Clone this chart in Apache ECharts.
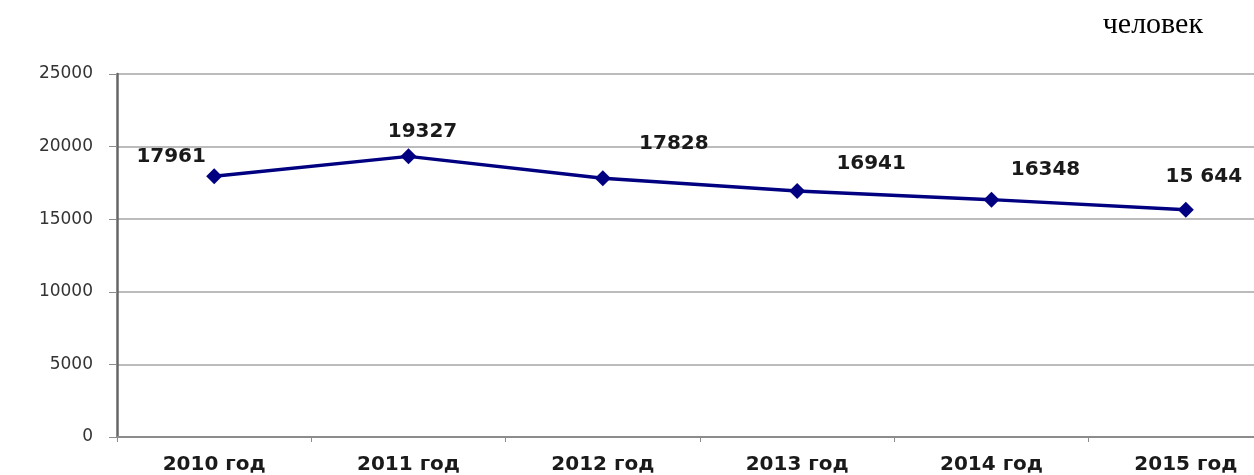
<!DOCTYPE html>
<html>
<head>
<meta charset="utf-8">
<script src="https://cdn.jsdelivr.net/npm/echarts@6/dist/echarts.min.js"></script>
<style>
  html, body { margin: 0; padding: 0; background: #fff; }
  #chart { width: 1254px; height: 475px; }
</style>
</head>
<body>
<div id="chart"></div>
<script>
// values
const years = ['2010 год', '2011 год', '2012 год', '2013 год', '2014 год', '2015 год'];
const people = [17961, 19327, 17828, 16941, 16348, 15644];
const pointLabels = ['17961', '19327', '17828', '16941', '16348', '15 644'];
const labelOffsets = [[-43, -19], [14, -25], [71, -34], [74, -27], [54, -30], [18, -33]];

const chart = echarts.init(document.getElementById('chart'), null, { renderer: 'canvas' });

const seriesData = people.map((v, i) => ({
  value: v,
  label: { offset: labelOffsets[i], formatter: pointLabels[i] }
}));

chart.setOption({
  backgroundColor: '#ffffff',
  animation: false,
  title: {
    text: 'человек',
    right: 46,
    top: 5,
    textStyle: { fontFamily: 'Liberation Serif', fontWeight: 'normal', fontSize: 30, color: '#000' }
  },
  // plot runs past the right edge, like the reference
  grid: { left: 117, top: 74, width: 1166, height: 363, outerBoundsMode: 'none', containLabel: false },
  xAxis: {
    type: 'category',
    data: years,
    boundaryGap: true,
    axisLine: { lineStyle: { color: '#8c8c8c', width: 2 } },
    axisTick: { show: true, length: 5, lineStyle: { color: '#8c8c8c' } },
    axisLabel: {
      margin: 18,
      fontFamily: 'DejaVu Sans',
      fontWeight: 'bold',
      fontSize: 20,
      color: '#1a1a1a'
    }
  },
  yAxis: {
    type: 'value',
    min: 0,
    max: 25000,
    interval: 5000,
    axisLine: { show: true, lineStyle: { color: '#666', width: 2.5 } },
    axisTick: { show: true, length: 8, lineStyle: { color: '#8c8c8c' } },
    axisLabel: {
      margin: 24,
      formatter: v => String(v),
      fontFamily: 'DejaVu Sans',
      fontSize: 17,
      color: '#333'
    },
    splitLine: { lineStyle: { color: '#a6a6a6', width: 1.5 } }
  },
  series: [{
    type: 'line',
    data: seriesData,
    symbol: 'diamond',
    symbolSize: 16,
    lineStyle: { color: '#000080', width: 3.5 },
    itemStyle: { color: '#000080' },
    label: {
      show: true,
      position: 'inside',
      fontFamily: 'DejaVu Sans',
      fontWeight: 'bold',
      fontSize: 20,
      color: '#1a1a1a'
    }
  }]
});
</script>
</body>
</html>
